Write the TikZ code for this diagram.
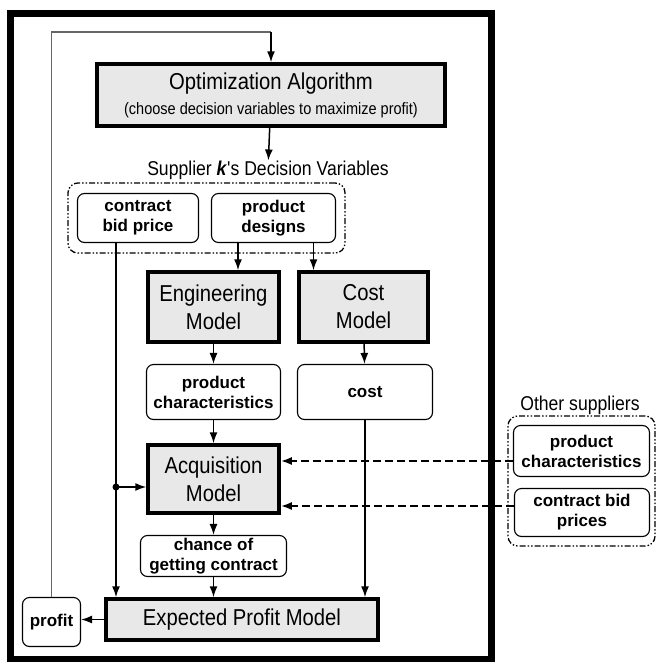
\documentclass[tikz,border=0pt]{standalone}
\usepackage{fontspec}
\setmainfont{Liberation Sans}
\newfontfamily\narrowsf[FakeStretch=0.88]{Liberation Sans}
\usetikzlibrary{arrows.meta,fit}

\begin{document}
\begin{tikzpicture}[x=1pt,y=-1pt,
  model/.style={draw=black,line width=3.5pt,fill=black!9,align=center,inner sep=0pt,
    font=\narrowsf\fontsize{23}{28}\selectfont},
  quantity/.style={draw=black,line width=1.1pt,rounded corners=7pt,align=center,inner sep=0pt,
    font=\bfseries\fontsize{17}{20}\selectfont},
  group/.style={draw=black,line width=1.3pt,rounded corners=10pt,
    dash pattern=on 6pt off 2pt on 1.5pt off 2pt on 1.5pt off 2pt},
  grouplabel/.style={inner sep=0pt,font=\narrowsf\fontsize{20}{24}\selectfont},
  link/.style={-{Latex[length=11pt,width=8pt]},line width=1.5pt},
  extlink/.style={link,line width=2pt,dash pattern=on 8pt off 4pt},
  feedback/.style={line width=1.1pt,black!60}]
\useasboundingbox (0,0) rectangle (657,662);
\draw[line width=7pt] (10,13) rectangle (491,659);

\node[model,minimum width=348,minimum height=62] (opt) at (271,95)
  {Optimization Algorithm\\[-3pt]{\fontsize{16.5}{19}\selectfont(choose decision variables to maximize profit)}};
\node[grouplabel] (dvlabel) at (268,170) {Supplier \textbf{\textit{k}}'s Decision Variables};
\node[quantity,minimum width=121,minimum height=49] (bid) at (138,218) {contract\\bid price};
\node[quantity,minimum width=124,minimum height=49] (designs) at (273.5,218) {product\\designs};
\node[group,fit=(bid)(designs),inner xsep=9pt,inner ysep=10pt] (dvbox) {};
\node[model,minimum width=131,minimum height=70] (eng) at (213.5,307) {Engineering\\Model};
\node[model,minimum width=129,minimum height=70] (costm) at (363.5,307) {Cost\\Model};
\node[quantity,minimum width=134,minimum height=55] (pc) at (213.5,392) {product\\characteristics};
\node[quantity,minimum width=135,minimum height=55] (cost) at (365,392) {cost};
\node[model,minimum width=131,minimum height=68] (acq) at (213.5,479) {Acquisition\\Model};
\node[quantity,minimum width=146,minimum height=41] (chance) at (213.5,556) {chance of\\getting contract};
\node[model,minimum width=272,minimum height=41] (epm) at (242,619.5) {Expected Profit Model};
\node[quantity,minimum width=58,minimum height=49] (profit) at (51.5,622) {profit};
%other suppliers
\node[grouplabel] (otherlabel) at (580,405) {Other suppliers};
\node[quantity,minimum width=136,minimum height=51] (pc2) at (581.5,451) {product\\characteristics};
\node[quantity,minimum width=135,minimum height=48] (cbp) at (582,512.5) {contract bid\\prices};
\node[group,fit=(pc2)(cbp),inner xsep=5pt,inner ysep=9pt] (otherbox) {};

\coordinate (loop) at (opt.north |- 0,32);
\coordinate (bidout) at ([xshift=-22pt]bid.south);
\coordinate (acqin) at ([yshift=-8pt]acq.west);
\coordinate (split) at (bidout |- acqin);
\coordinate (acqr1) at ([yshift=18pt]acq.east);
\coordinate (acqr2) at ([yshift=-27pt]acq.east);

\draw [feedback] (profit.north) |- (loop);
\draw [link] (loop) -- (opt.north);
\draw [link] (opt) -- (dvlabel);
\draw [link] ([xshift=24.5pt]eng.north |- designs.south) -- ([xshift=24.5pt]eng.north);
\draw [link] ([xshift=-50pt]costm.north |- designs.south) -- ([xshift=-50pt]costm.north);
\draw [link] (eng) -- (pc);
\draw [link] (costm) -- (cost);
\draw [link] (pc) -- (acq);
\draw [link] (acq) -- (chance);
\draw [link] (chance) -- (chance |- epm.north);
\draw [link] (cost) -- (cost |- epm.north);
\draw [link] (bidout) -- (bidout |- epm.north);
\fill (split) circle (3.5pt);
\draw [link] (split) -- (acqin);
\draw [link] (epm.west) -- (profit.east |- epm.west);
\draw [extlink] (pc2.west |- acqr1) -- (acqr1);
\draw [extlink] (cbp.west |- acqr2) -- (acqr2);
\end{tikzpicture}
\end{document}
